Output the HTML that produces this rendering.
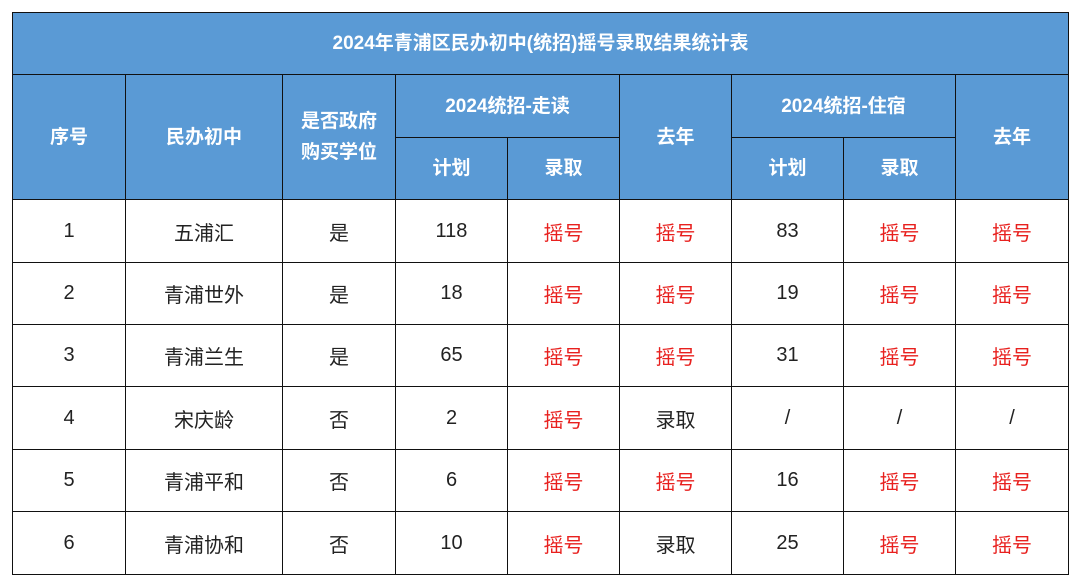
<!DOCTYPE html>
<html><head><meta charset="utf-8"><style>
body{margin:0;width:1080px;height:586px;background:#fff;position:relative;overflow:hidden;font-family:"Liberation Sans","Noto Sans CJK SC",sans-serif;}
.c{position:absolute;box-sizing:border-box;display:flex;align-items:center;justify-content:center;text-align:center;border:1px solid #111;margin:0;}
.h{background:#5a9ad5;color:#fff;font-weight:bold;font-size:19px;line-height:31px;}
.d{background:#fff;color:#222;font-size:20px;}
.r{color:#e8201e;}
</style></head><body>
<div id="t"></div>
<script>
const xs=[12,125,282,395,507,619,731,843,955,1068];
const ys=[12,74,137,199,262,324,386,449,511,574];
const rows=[
["1","五浦汇","是","118","摇号","摇号","83","摇号","摇号"],
["2","青浦世外","是","18","摇号","摇号","19","摇号","摇号"],
["3","青浦兰生","是","65","摇号","摇号","31","摇号","摇号"],
["4","宋庆龄","否","2","摇号","录取","/","/","/"],
["5","青浦平和","否","6","摇号","摇号","16","摇号","摇号"],
["6","青浦协和","否","10","摇号","录取","25","摇号","摇号"]];
const t=document.getElementById('t');
function cell(x0,x1,y0,y1,txt,cls,name){
  const d=document.createElement('div');
  d.className='c '+cls;
  d.style.left=x0+'px';d.style.top=y0+'px';
  d.style.width=(x1-x0+1)+'px';d.style.height=(y1-y0+1)+'px';
  d.innerHTML=txt;
  
  
  t.appendChild(d);
}
cell(xs[0],xs[9],ys[0],ys[1],'2024年青浦区民办初中(统招)摇号录取结果统计表','h','table-title');
cell(xs[0],xs[1],ys[1],ys[3],'序号','h','header-index');
cell(xs[1],xs[2],ys[1],ys[3],'民办初中','h','header-school');
cell(xs[2],xs[3],ys[1],ys[3],'是否政府<br>购买学位','h','header-gov-purchase');
cell(xs[3],xs[5],ys[1],ys[2],'2024统招-走读','h','header-day-group');
cell(xs[3],xs[4],ys[2],ys[3],'计划','h','header-day-plan');
cell(xs[4],xs[5],ys[2],ys[3],'录取','h','header-day-admit');
cell(xs[5],xs[6],ys[1],ys[3],'去年','h','header-day-last-year');
cell(xs[6],xs[8],ys[1],ys[2],'2024统招-住宿','h','header-board-group');
cell(xs[6],xs[7],ys[2],ys[3],'计划','h','header-board-plan');
cell(xs[7],xs[8],ys[2],ys[3],'录取','h','header-board-admit');
cell(xs[8],xs[9],ys[1],ys[3],'去年','h','header-board-last-year');
rows.forEach((r,i)=>{
  r.forEach((v,j)=>{
    cell(xs[j],xs[j+1],ys[3+i],ys[4+i],v,'d'+(v==='摇号'?' r':''),'cell-r'+(i+1)+'-c'+(j+1));
  });
});
</script>
</body></html>
